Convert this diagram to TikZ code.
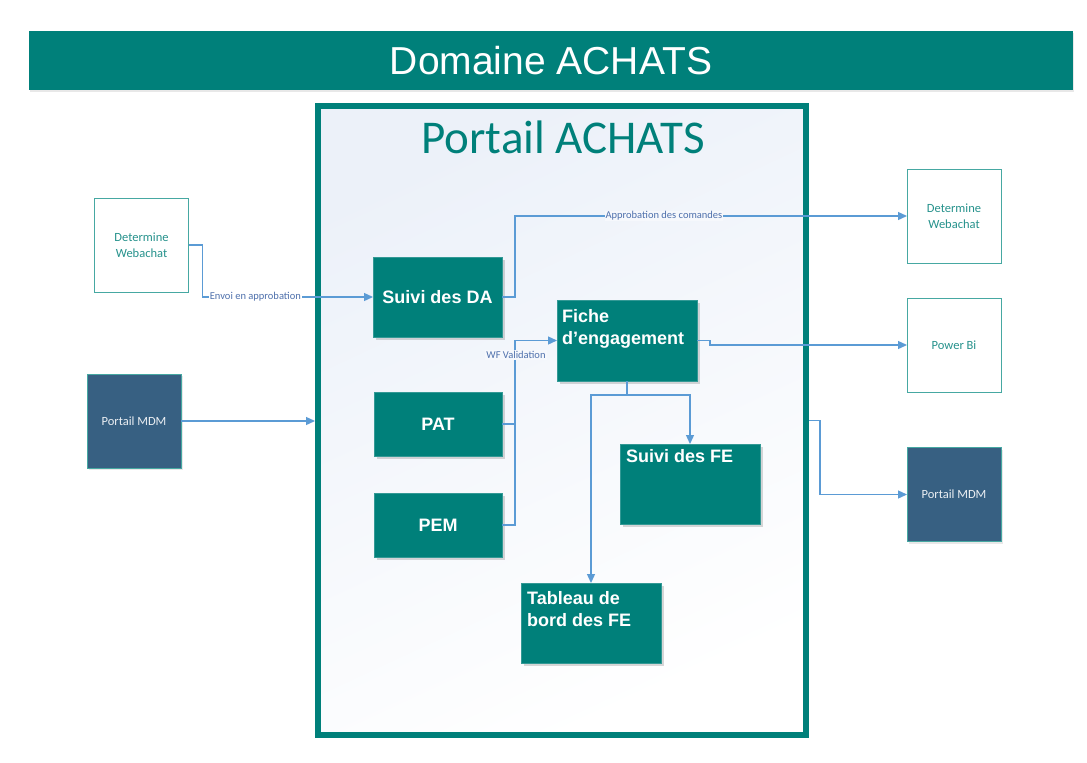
\documentclass[tikz,border=0pt]{standalone}
\usepackage{fontspec}
\setmainfont{Liberation Sans}
\newfontfamily\calfont{Carlito}
\usetikzlibrary{arrows.meta,shadows,calc}
\definecolor{teal1}{RGB}{0,128,122}
\definecolor{tealtxt}{RGB}{38,146,140}
\definecolor{tealline}{RGB}{70,168,162}
\definecolor{navy1}{RGB}{55,96,130}
\definecolor{conn1}{RGB}{91,155,213}
\definecolor{lblc}{RGB}{78,112,172}
\definecolor{bgin}{RGB}{246,248,252}
\definecolor{bgtop}{RGB}{236,241,249}
\tikzset{
  tealbox/.style={rectangle, fill=teal1, draw=teal1!80!white, line width=0.6pt, inner sep=0pt, outer sep=0pt,
    drop shadow={shadow xshift=3pt, shadow yshift=-3pt, opacity=0.22, fill=black!70},
    text=white, font=\fontsize{18}{21}\selectfont\bfseries},
  boxtext/.style={text=white, font=\fontsize{18}{22.5}\selectfont\bfseries, align=left, inner sep=0pt},
  outbox/.style={rectangle, fill=white, draw=tealline, line width=0.8pt, inner sep=0pt, outer sep=0pt,
    minimum width=94pt, minimum height=94pt, align=center, text=tealtxt,
    font=\calfont\fontsize{12.5}{15.5}\selectfont},
  navybox/.style={rectangle, fill=navy1, draw=tealline, line width=0.6pt, inner sep=0pt, outer sep=0pt,
    minimum width=94pt, minimum height=94pt, text=white!90!navy1,
    drop shadow={shadow xshift=2pt, shadow yshift=-2pt, opacity=0.15, fill=black!60},
    font=\calfont\fontsize{12.5}{15}\selectfont},
  conn/.style={draw=conn1, line width=1.3pt, -{Triangle[length=9pt,width=8pt]}},
  plain/.style={draw=conn1, line width=1.3pt},
  lbl/.style={font=\calfont\fontsize{10.5}{12}\selectfont, text=lblc, fill=#1, inner sep=1pt},
  lbl/.default=white
}
\begin{document}
\begin{tikzpicture}[x=1pt,y=-1pt]
\useasboundingbox (0,0) rectangle (1087,763);
\fill[white] (0,0) rectangle (1087,763);

% title bar
\node[rectangle, fill=teal1, inner sep=0pt, minimum width=1044pt, minimum height=59pt,
  drop shadow={shadow xshift=1pt, shadow yshift=-2pt, opacity=0.15, fill=black!60},
  text=white, font=\fontsize{39}{41}\selectfont] (title) at (551,60.5) {Domaine ACHATS};

% frame
\node[rectangle, draw=teal1, line width=6pt, top color=bgtop, bottom color=white, shading angle=25,
  minimum width=488pt, minimum height=629pt, inner sep=0pt] (frame) at (562,420.5) {};
\node[text=teal1, font=\calfont\fontsize{47}{49}\selectfont, inner sep=0pt] (ptitle) at (563,137) {Portail ACHATS};

% inner boxes
\node[tealbox, minimum width=129pt, minimum height=80pt] (da) at (437.5,297) {Suivi des DA};
\node[tealbox, minimum width=140pt, minimum height=81pt] (fiche) at (627,340.5) {};
\node[boxtext, anchor=north west] (fichet) at ([xshift=5pt,yshift=-9pt]fiche.north west) {Fiche\\d’engagement};
\node[tealbox, minimum width=128pt, minimum height=64pt] (pat) at (438,424) {PAT};
\node[tealbox, minimum width=128pt, minimum height=64pt] (pem) at (438,525) {PEM};
\node[tealbox, minimum width=140pt, minimum height=80pt] (sfe) at (690,484) {};
\node[boxtext, anchor=north west] (sfet) at ([xshift=6pt,yshift=-5pt]sfe.north west) {Suivi des FE};
\node[tealbox, minimum width=140pt, minimum height=80pt] (tab) at (591,623) {};
\node[boxtext, anchor=north west] (tabt) at ([xshift=6pt,yshift=-8pt]tab.north west) {Tableau de\\bord des FE};

% outer boxes
\node[outbox] (dwl) at (141.5,245) {Determine\\Webachat};
\node[navybox] (mdml) at (134,421) {Portail MDM};
\node[outbox] (dwr) at (954,216) {Determine\\Webachat};
\node[outbox] (pbi) at (954,345) {Power Bi};
\node[navybox] (mdmr) at (954,494.5) {Portail MDM};

% connectors
\draw[conn] (dwl.east) -- ++(14,0) |- node[lbl, pos=0.655] {Envoi en approbation} (da.west);
\draw[plain] (pat.east) -- ++(13,0);
\draw[conn] (pem.east) -- ++(13,0) |- (fiche.west);
\node[lbl=bgin] (wf) at (516,355) {WF Validation};
\draw[conn] (da.east) -- ++(13,0) |- node[lbl=bgin, pos=0.69] {Approbation des comandes} (dwr.west);
\draw[conn] (fiche.east) -- ++(13,0) |- (pbi.west);
\draw[conn] (fiche.south) -- ++(0,14) -| (sfe.north);
\draw[conn] (fiche.south) -- ++(0,14) -| (tab.north);
\draw[conn] (mdml.east) -- (mdml.east -| frame.west);
\draw[conn] (frame.east) -- ++(11,0) |- (mdmr.west);
\end{tikzpicture}
\end{document}
